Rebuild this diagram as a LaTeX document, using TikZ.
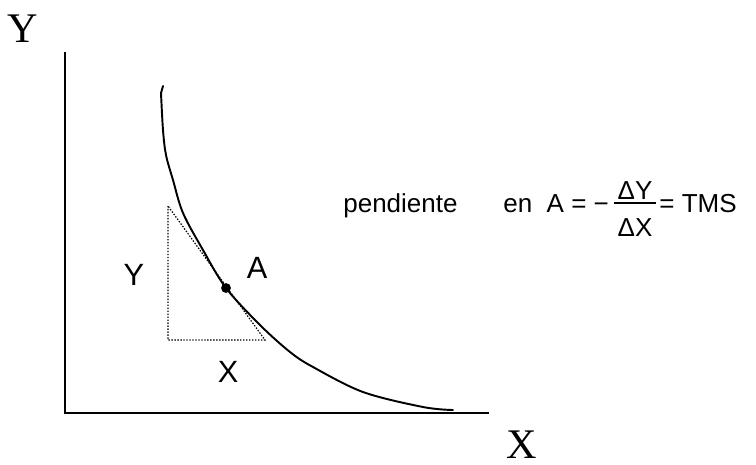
\documentclass[tikz,border=0pt]{standalone}
\usepackage{fontspec}
\setmainfont{Liberation Sans}
\newfontfamily\serifa{Liberation Serif}
\usetikzlibrary{positioning}

% fraccion con la raya a mano: numerador, raya y denominador superpuestos
\newcommand{\fraccion}[2]{\ooalign{\hfil\kern2pt\raisebox{7.4pt}{#1}\kern2pt\hfil\cr
  \hfil\raisebox{-14.2pt}{#2}\hfil\cr
  \leaders\hrule height 5.6pt depth -4.6pt\hfill\cr}}

\begin{document}
\begin{tikzpicture}[
  x=0.02cm, y=-0.02cm,
  eje/.style={draw=black, line width=1.1pt},
  curva/.style={draw=black, line width=1.1pt, line join=round, line cap=round},
  auxiliar/.style={draw=black, line width=0.7pt, dash pattern=on 0.8pt off 0.9pt},
  punto/.style={circle, fill=black, inner sep=0pt, minimum size=5.6pt},
  etiqueta/.style={font=\fontsize{17.5}{20}\selectfont, inner sep=0pt},
  ejetexto/.style={font=\serifa\fontsize{24}{28}\selectfont, inner sep=0pt},
  formula/.style={font=\fontsize{14.8}{17}\selectfont, inner sep=0pt, anchor=base west}
]
\useasboundingbox (0,0) rectangle (756,464);

% ---- ejes ------------------------------------------------------------
\coordinate (ytope)  at (65,52);
\coordinate (origen) at (65,413);
\coordinate (xfin)   at (489,413);
\draw[eje] (ytope) -- (origen) -- (xfin);

\node[ejetexto] (ejeY) at (23,29)  {Y};
\node[ejetexto] (ejeX) at (522,445) {X};

% ---- curva de indiferencia -------------------------------------------
\draw[curva] (163,86) -- (161,93)
  plot[smooth, tension=0.55] coordinates {(161,93) (163,130) (166,155) (173,180)
    (183,213) (203,250) (226,288) (260,325) (290,352) (313,367) (363,392)
    (423,407) (453,410)};

% ---- triangulo de la pendiente (punteado) -----------------------------
\coordinate (t1) at (168,206);
\coordinate (t2) at (168,340);
\coordinate (t3) at (265,340);
\draw[auxiliar] (t1) -- (t2) -- (t3) -- cycle;

\node[punto] (A) at (226,288) {};

\node[etiqueta] (etqA) at (257,268) {A};
\node[etiqueta] (etqY) at (134,275) {Y};
\node[etiqueta] (etqX) at (228,372) {X};

% ---- texto de la pendiente ---------------------------------------------
\node[formula] (pend) at (343,212) {pendiente};
\node[formula] (tms)  at (503,212)
  {en\ \ A = −\kern3pt\fraccion{ΔY}{ΔX}\kern2pt= TMS};

\end{tikzpicture}
\end{document}
